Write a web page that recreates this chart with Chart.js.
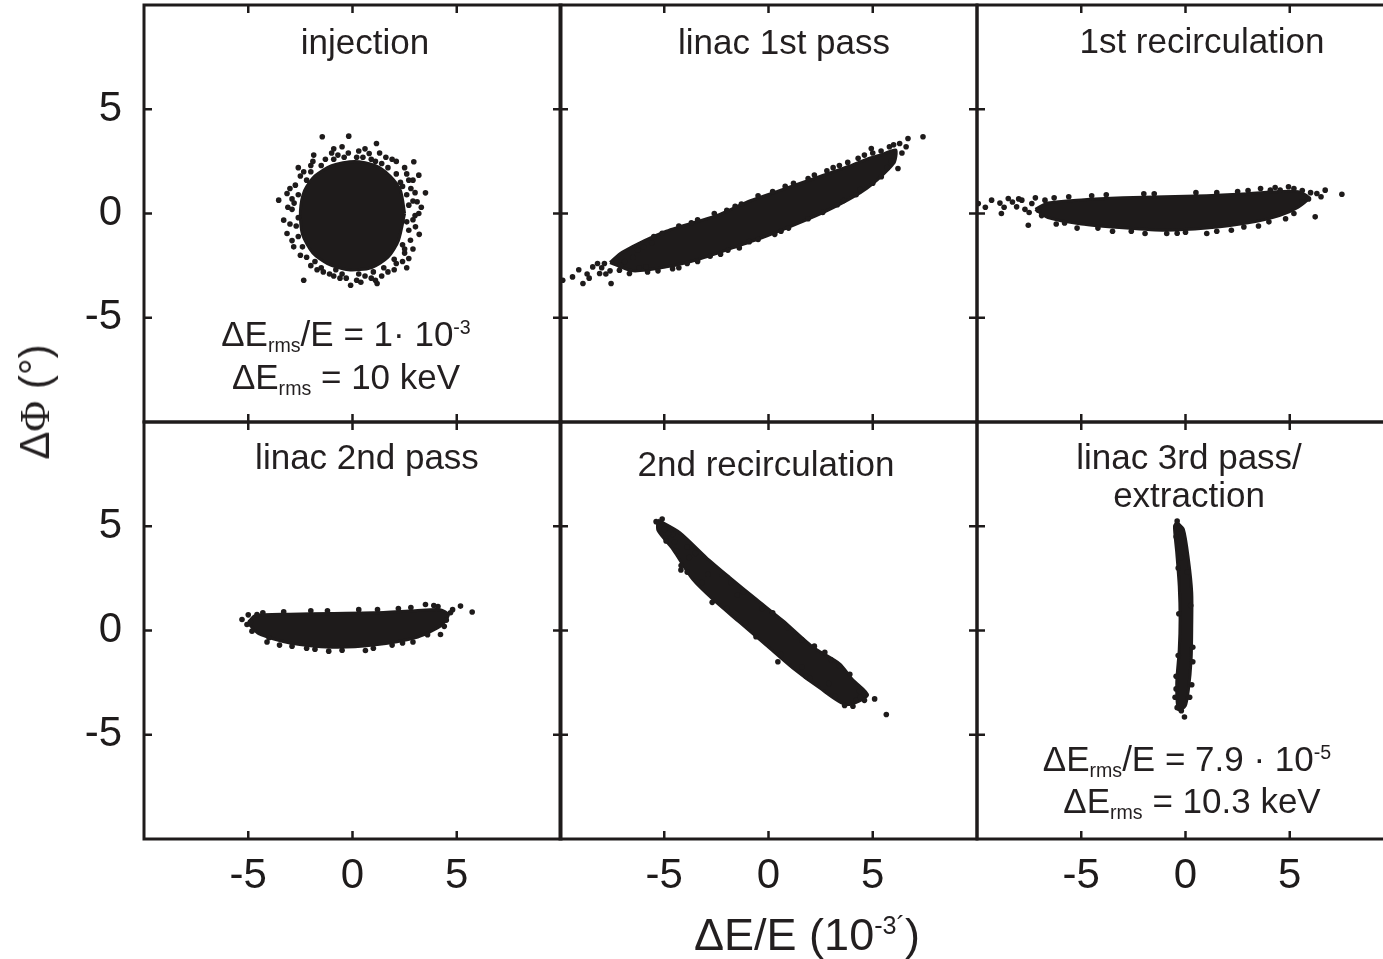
<!DOCTYPE html>
<html>
<head>
<meta charset="utf-8">
<script src="https://cdn.jsdelivr.net/npm/chart.js"></script>
<style>
  body{margin:0;width:1383px;height:959px;overflow:hidden;background:#fff;position:relative;font-family:"Liberation Sans",Arial,sans-serif;color:#231f20}
  canvas{position:absolute}
  .lbl{position:absolute;transform:translate(-50%,-50%);white-space:nowrap;line-height:1;z-index:5}
  .sb{font-size:0.56em;position:relative;top:0.3em}
  .sp{font-size:0.56em;position:relative;top:-0.62em}
  .serif{font-family:"Liberation Serif","Times New Roman",serif}
</style>
</head>
<body>
<script>
// axis settings (same for every panel)
const axisMin = -10, axisMax = 10
const tickValues = [-5, 0, 5]

// dense core outlines + loose particles (dE/E in 1e-3, dPhi in deg)
const injectionCore = [[2.5,0],[2.3,1.1],[1.8,1.8],[1.1,2.3],[0.1,2.5],[-1.0,2.3],[-1.8,1.8],[-2.3,1.1],[-2.5,0.1],[-2.4,-1.0],[-1.9,-1.9],[-1.2,-2.4],[-0.2,-2.7],[0.9,-2.6],[1.7,-2.1],[2.2,-1.3],[2.5,0]]
const injectionDots = [[-1.45,3.68],[-0.18,3.71],[1.15,3.36],[-1.86,2.8],[-0.9,3.1],[-0.5,3.2],[0.8,2.88],[0.3,3.0],[1.6,2.7],[2.1,2.5],[2.94,2.48],[3.18,1.84],[2.6,1.9],[3.5,0.99],[3.1,0.56],[2.8,1.2],[3.18,0],[2.9,-0.3],[3.02,-0.64],[2.78,-1.28],[2.5,-1.7],[2.7,-2.16],[2.1,-2.4],[1.7,-2.8],[1.18,-3.36],[0.6,-3.0],[0.2,-3.2],[-0.09,-3.44],[-0.6,-3.1],[-1.1,-2.9],[-1.7,-2.7],[-2.34,-3.2],[-2.2,-2.1],[-2.82,-1.6],[-2.6,-1.1],[-3.14,-0.96],[-3.3,-0.32],[-2.9,0.2],[-3.54,0.64],[-3.14,0.96],[-2.74,1.36],[-2.5,1.8],[-2.34,2.0],[-2.0,2.3],[-1.3,2.6],[-0.7,2.8],[0.5,2.7],[1.1,2.5],[2.3,1.5],[2.9,0.6],
  [2.9,1.6],[3.0,1.0],[3.3,0.3],[3.0,-0.1],[3.2,-1.0],[2.9,-1.7],[2.4,-2.3],[2.0,-2.7],[1.4,-3.0],[0.9,-3.1],[0.4,-3.3],[-0.3,-3.1],[-0.9,-3.0],[-1.4,-2.8],[-2.0,-2.5],[-2.5,-2.0],[-2.9,-1.3],[-3.0,-0.5],[-3.1,0.3],[-2.9,0.7],[-3.0,1.2],[-2.6,2.2],[-1.9,2.5],[-1.0,2.9],[-0.2,2.9],[0.6,3.1],[1.3,2.9],[1.9,2.6],[2.5,2.2],[2.7,1.6],[2.6,-2.6],[1.1,-3.2],
  [2.7,0.4],[2.7,-0.8],[2.5,-1.9],[1.5,-2.6],[0.3,-2.9],[-0.8,-2.7],[-1.8,-2.3],[-2.7,-0.6],[-2.8,0.5],[-2.2,1.6],[-1.5,2.3],[-0.4,2.7],[0.9,2.6],[1.7,2.2],[2.4,1.3],
  [2.6,0.9],[2.6,-0.4],[2.4,-1.5],[2.0,-2.2],[1.0,-2.8],[-0.5,-2.9],[-1.5,-2.6],[-2.4,-1.6],[-2.6,-0.2],[-2.6,0.9],[-2.0,2.0],[-0.9,2.6],[0.2,2.7],[1.4,2.4],[2.1,1.9]]

const linac1Core = [[-7.6,-2.35],[-7.0,-1.85],[-4.9,-0.85],[-2.5,-0.1],[-0.9,0.6],[0.7,1.16],[2.3,1.72],[3.9,2.28],[4.7,2.6],[5.5,2.85],[6.1,3.05],[6.0,2.4],[4.7,1.2],[3.1,0.28],[1.5,-0.44],[-0.1,-1.08],[-1.7,-1.64],[-3.3,-2.18],[-4.9,-2.56],[-6.5,-2.75],[-7.6,-2.35]]
const linac1Dots = [[-9.87,-3.2],[-9.4,-3.04],[-8.9,-3.36],[-8.43,-2.56],[-8.1,-2.88],[-7.87,-2.4],[-7.55,-3.36],[-7.3,-2.24],[-7.15,-2.72],[-6.67,-2.88],[-6.27,-1.76],[-5.87,-2.56],[-8.7,-2.9],[-8.0,-2.6],[-7.6,-2.75],[-6.9,-2.3],[-6.5,-2.1],[-5.6,-1.4],[-5.5,-1.1],[-4.3,-0.6],[-3.4,-0.3],[-2.0,0.15],[-1.3,0.45],[0.2,1.05],[1.2,1.45],[1.9,1.68],[2.8,2.05],[3.4,2.3],[4.3,2.65],[5.0,2.9],[5.8,3.2],[7.41,3.68],[6.69,3.6],[6.29,3.36],[4.93,3.12],[6.21,2.16],[5.41,1.76],[6.6,3.2],[5.9,2.5],[6.4,2.9],[5.0,1.45],[4.2,0.9],[3.6,0.62],[2.6,0.05],[0.96,-0.7],[0.3,-1.0],[-0.92,-1.35],[-1.95,-1.76],[-2.8,-2.05],[-3.9,-2.4],[-4.6,-2.65],[-5.3,-2.75],
  [-9.1,-2.7],[-8.6,-3.1],[-8.2,-2.4],[-7.8,-2.9],[-7.1,-2.5],[-6.2,-2.6],[-6.0,-1.6],[-5.1,-0.95],[-3.7,-0.45],[-2.6,0.0],[-1.6,0.35],[-0.5,0.85],[0.8,1.3],[2.2,1.85],[3.1,2.2],[3.8,2.45],[4.6,2.8],[5.4,3.0],[6.0,3.3],[5.7,2.2],[4.4,1.15],[3.3,0.42],[1.9,-0.25],[0.6,-0.85],[-0.5,-1.25],[-1.4,-1.65],[-2.3,-1.95],[-3.4,-2.3],[-4.3,-2.6],[-5.8,-2.8]]

const recirc1Core = [[-7.2,0.2],[-6.6,0.5],[-5,0.65],[-3,0.75],[-1,0.8],[1,0.85],[3,0.95],[4.5,1.05],[5.4,1.05],[5.9,0.75],[5.4,0.3],[4.5,-0.1],[3,-0.45],[1,-0.7],[-1,-0.8],[-3,-0.68],[-5,-0.5],[-6.6,-0.2],[-7.2,0.2]]
const recirc1Dots = [[-9.94,0.48],[-9.3,0.64],[-8.83,0.0],[-8.5,0.72],[-8.1,0.32],[-7.85,0.64],[-7.54,-0.56],[-7.37,0.48],[-7.06,0.16],[-6.74,0.64],[-9.6,0.3],[-8.9,0.5],[-8.3,0.55],[-7.7,0.2],[-7.2,0.75],[-6.9,-0.1],[6.7,1.12],[7.5,0.92],[6.3,0.96],[6.22,-0.16],[5.58,0.56],[4.94,1.28],[4.54,1.12],[4.07,1.12],[5.9,0.7],[6.0,1.0],[5.6,1.1],[5.2,0.0],[-1.94,-0.96],[-0.9,-0.96],[1.02,-0.96],[-3.5,-0.85],[0.0,-0.9],[2.2,-0.8],[3.5,-0.6],[-5.2,-0.7],[-6.2,-0.5],[-4.5,0.85],[-2.0,0.95],[0.5,1.0],[2.5,1.05],[3.6,1.2],
  [-8.7,0.3],[-8.0,0.7],[-7.5,0.05],[-6.3,0.75],[-5.6,0.8],[-3.8,0.9],[-1.5,0.95],[1.5,1.0],[3.0,1.1],[4.3,1.25],[5.2,1.2],[6.5,0.8],[4.8,-0.25],[4.0,-0.4],[2.8,-0.65],[1.5,-0.85],[-0.4,-0.95],[-2.6,-0.85],[-4.2,-0.7],[-5.8,-0.45]]

const linac2Core = [[-5.0,0.35],[-4.7,0.7],[-3,0.78],[-1,0.82],[1,0.85],[3,0.95],[4.2,1.0],[4.6,0.75],[4.2,0.2],[3,-0.35],[1,-0.7],[-1,-0.8],[-3,-0.6],[-4.5,-0.15],[-5.0,0.35]]
const linac2Dots = [[-5.3,0.53],[-5.06,0.29],[-4.82,-0.03],[-4.1,-0.55],[-4.58,0.77],[-5.0,0.75],[-4.9,0.4],[-3.5,-0.7],[5.18,1.17],[5.74,0.89],[3.5,1.25],[4.22,-0.19],[4.7,0.85],[4.5,0.5],[4.8,1.0],[4.1,1.15],[-1.14,-0.99],[0.62,-0.96],[-2.2,-0.85],[1.9,-0.7],[2.9,-0.55],[-2.0,0.95],[0.3,1.0],[2.2,1.05],
  [-4.3,0.85],[-3.3,0.9],[-1.2,0.95],[1.2,1.0],[2.8,1.1],[3.9,1.2],[4.4,0.2],[3.6,-0.2],[2.4,-0.6],[1.0,-0.85],[-0.5,-0.95],[-1.8,-0.9],[-2.9,-0.75],[-4.0,-0.35]]

const recirc2Core = [[-5.31,5.3],[-4.27,4.7],[-2.99,3.5],[-1.87,2.55],[-0.59,1.5],[0.69,0.47],[2.13,-0.8],[3.41,-1.6],[4.05,-2.38],[4.75,-3.1],[3.73,-3.55],[2.45,-2.75],[1.17,-1.8],[-0.11,-0.7],[-1.39,0.4],[-2.67,1.5],[-3.63,2.45],[-4.59,3.9],[-5.3,4.8],[-5.31,5.3]]
const recirc2Dots = [[-5.39,5.22],[-4.99,4.85],[-4.91,4.29],[-4.19,3.12],[-4.6,4.6],[-4.4,3.8],[-3.8,3.5],[-3.9,2.8],[-2.9,2.7],[-2.7,1.35],[-1.5,1.7],[-1.1,0.35],[0.2,0.85],[1.6,-0.45],[2.2,-0.75],[3.0,-1.4],[3.41,-1.71],[0.45,-1.5],[1.8,-2.2],[4.37,-2.91],[5.09,-3.28],[4.6,-3.35],[4.05,-3.63],[3.65,-3.6],[5.65,-4.03],[4.4,-3.2],[3.2,-3.15],
  [-5.1,5.35],[-4.8,4.65],[-4.5,4.25],[-3.9,4.0],[-3.5,3.7],[-3.2,2.3],[-2.2,2.65],[-1.2,1.85],[-2.0,1.05],[-0.3,1.05],[-0.6,-0.3],[0.9,0.15],[0.6,-1.15],[1.6,-1.75],[2.7,-1.05],[2.9,-2.55],[3.9,-2.1],[4.2,-3.35],[-4.2,2.9],[1.3,-0.3],[-1.8,2.3],[2.0,-2.3]]

const linac3Core = [[-0.42,5.2],[-0.1,4.85],[0.14,3.41],[0.3,1.81],[0.3,0.21],[0.27,-1.39],[0.14,-2.83],[-0.02,-3.63],[-0.34,-3.79],[-0.42,-2.51],[-0.3,-0.91],[-0.26,0.53],[-0.3,2.13],[-0.42,3.73],[-0.53,5.0],[-0.42,5.2]]
const linac3Dots = [[-0.4,5.25],[-0.3,4.9],[-0.45,4.5],[-0.2,3.5],[0.1,2.8],[0.25,1.2],[0.35,-0.8],[0.35,-1.5],[0.3,-2.6],[-0.45,-2.8],[-0.5,-3.2],[-0.4,-3.7],[-0.2,-3.85],[-0.05,-4.15],[-0.35,-1.2],[-0.32,0.8],[-0.45,-2.2],[0.2,-3.2],[-0.35,3.0]]

const panels = [
  {core: injectionCore, dots: injectionDots, col: 0, row: 0},
  {core: linac1Core, dots: linac1Dots, col: 1, row: 0},
  {core: recirc1Core, dots: recirc1Dots, col: 2, row: 0},
  {core: linac2Core, dots: linac2Dots, col: 0, row: 1},
  {core: recirc2Core, dots: recirc2Dots, col: 1, row: 1},
  {core: linac3Core, dots: linac3Dots, col: 2, row: 1}
]

const ink = '#1e1b1b'
const colLeft = [144, 560, 977]
const rowTop = [5, 422]
const size = 417
const padL = 150, padT = 40, padR = 40, padB = 130

const toXY = arr => arr.map(p => ({x: p[0], y: p[1]}))

// frame + inward tick marks on all four sides
const framePlugin = {
  id: 'frame',
  afterDraw(chart){
    const ctx = chart.ctx
    const {left, top, right, bottom} = chart.chartArea
    ctx.save()
    ctx.strokeStyle = ink
    ctx.lineWidth = 2.5
    chart.scales.x.ticks.forEach(t => {
      const px = chart.scales.x.getPixelForValue(t.value)
      ctx.beginPath()
      ctx.moveTo(px, top); ctx.lineTo(px, top + 8)
      ctx.moveTo(px, bottom); ctx.lineTo(px, bottom - 8)
      ctx.stroke()
    })
    chart.scales.y.ticks.forEach(t => {
      const py = chart.scales.y.getPixelForValue(t.value)
      ctx.beginPath()
      ctx.moveTo(left, py); ctx.lineTo(left + 8, py)
      ctx.moveTo(right, py); ctx.lineTo(right - 8, py)
      ctx.stroke()
    })
    ctx.lineWidth = 3
    ctx.strokeRect(left, top, right - left, bottom - top)
    ctx.restore()
  }
}

panels.forEach(p => {
  const cv = document.createElement('canvas')
  cv.width = padL + size + padR
  cv.height = padT + size + padB
  cv.style.left = (colLeft[p.col] - padL) + 'px'
  cv.style.top = (rowTop[p.row] - padT) + 'px'
  document.body.appendChild(cv)
  const tickFont = {family: '"Liberation Sans", Arial, sans-serif', size: 42}
  new Chart(cv.getContext('2d'), {
    type: 'scatter',
    data: {
      datasets: [
        {data: toXY(p.dots), pointRadius: 2.8, pointBorderWidth: 0, backgroundColor: ink, borderColor: ink},
        {data: toXY(p.core), showLine: true, fill: 'shape', pointRadius: 0, borderWidth: 3, borderColor: ink, backgroundColor: ink, tension: 0.25}
      ]
    },
    options: {
      responsive: false,
      animation: false,
      events: [],
      layout: {padding: {left: 10, top: padT, right: padR, bottom: 10}},
      plugins: {legend: {display: false}, tooltip: {enabled: false}},
      scales: {
        x: {
          type: 'linear', min: axisMin, max: axisMax,
          grid: {display: false, drawTicks: false},
          border: {display: false},
          afterBuildTicks: s => { s.ticks = tickValues.map(v => ({value: v})) },
          afterFit: s => { s.height = padB - 10; s.paddingLeft = 0; s.paddingRight = 0 },
          ticks: {display: p.row === 1, font: tickFont, color: ink, padding: 12, maxRotation: 0}
        },
        y: {
          type: 'linear', min: axisMin, max: axisMax,
          grid: {display: false, drawTicks: false},
          border: {display: false},
          afterBuildTicks: s => { s.ticks = tickValues.map(v => ({value: v})) },
          afterFit: s => { s.width = padL - 10; s.paddingTop = 0; s.paddingBottom = 0 },
          ticks: {display: p.col === 0, font: tickFont, color: ink, padding: 22}
        }
      }
    },
    plugins: [framePlugin]
  })
})

// text: panel titles, notes and axis titles
const labels = [
  {html: 'injection', x: 365, y: 41, size: 35},
  {html: 'linac 1st pass', x: 784, y: 41, size: 35},
  {html: '1st recirculation', x: 1202, y: 40, size: 35},
  {html: 'linac 2nd pass', x: 367, y: 456, size: 35},
  {html: '2nd recirculation', x: 766, y: 463, size: 35},
  {html: 'linac 3rd pass/', x: 1189, y: 456, size: 35},
  {html: 'extraction', x: 1189, y: 494, size: 35},
  {html: 'ΔE<span class="sb">rms</span>/E = 1· 10<span class="sp">-3</span>', x: 346, y: 333, size: 35},
  {html: 'ΔE<span class="sb">rms</span> = 10 keV', x: 346, y: 376, size: 35},
  {html: 'ΔE<span class="sb">rms</span>/E = 7.9 · 10<span class="sp">-5</span>', x: 1187, y: 758, size: 35},
  {html: 'ΔE<span class="sb">rms</span> = 10.3 keV', x: 1192, y: 800, size: 35},
  {html: 'ΔE/E (10<span class="sp">-3´</span>)', x: 807, y: 934, size: 45}
]
labels.forEach(l => {
  const d = document.createElement('div')
  d.className = 'lbl'
  d.innerHTML = l.html
  d.style.left = l.x + 'px'
  d.style.top = l.y + 'px'
  d.style.fontSize = l.size + 'px'
  document.body.appendChild(d)
})
const yTitle = document.createElement('div')
yTitle.className = 'lbl'
yTitle.innerHTML = 'Δ<span class="serif">Φ</span> (°)'
yTitle.style.left = '35px'
yTitle.style.top = '402px'
yTitle.style.fontSize = '42px'
yTitle.style.transform = 'translate(-50%,-50%) rotate(-90deg)'
document.body.appendChild(yTitle)
</script>
</body>
</html>
